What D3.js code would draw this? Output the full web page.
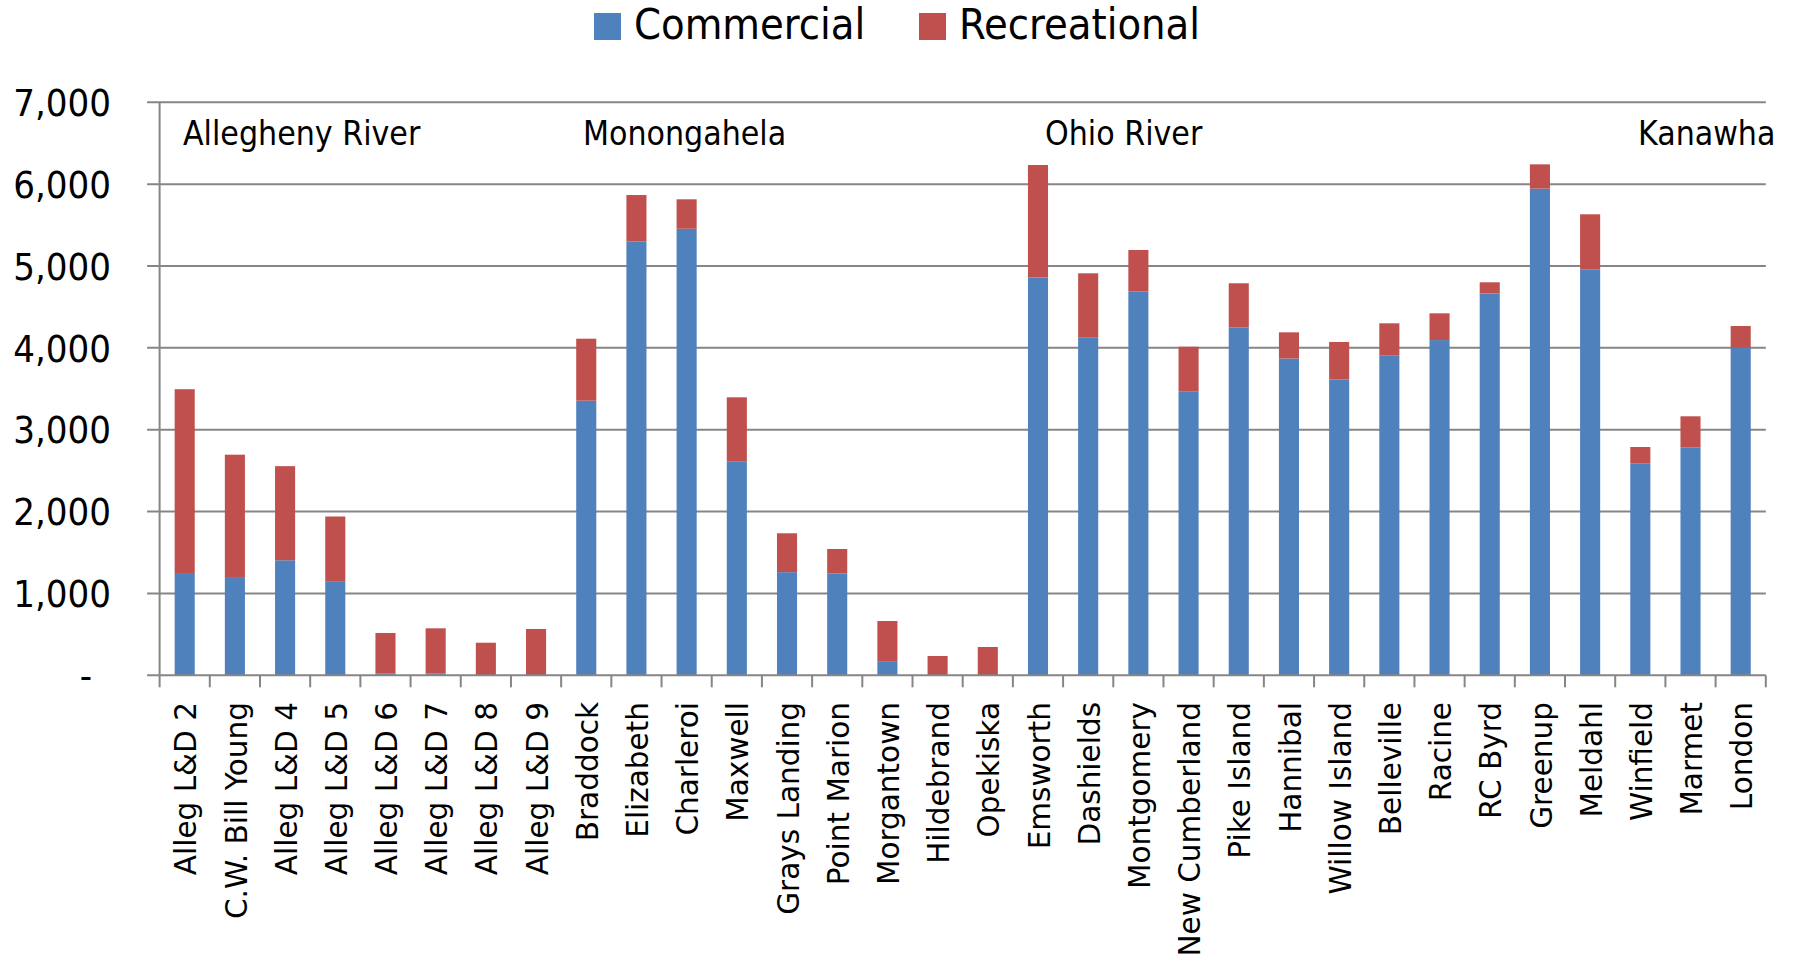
<!DOCTYPE html>
<html>
<head>
<meta charset="utf-8">
<script src="https://cdn.jsdelivr.net/npm/d3@7"></script>
<style>
  html, body { margin: 0; padding: 0; background: #fff; }
  svg { display: block; }
  .cond { font-family: 'DejaVu Sans Condensed', 'Liberation Sans Narrow', 'DejaVu Sans', sans-serif; font-stretch: condensed; }
  .cat { font-family: 'DejaVu Sans', sans-serif; }
</style>
</head>
<body>
<script>
const categories = ["Alleg L&D 2","C.W. Bill Young","Alleg L&D 4","Alleg L&D 5","Alleg L&D 6","Alleg L&D 7","Alleg L&D 8","Alleg L&D 9",
  "Braddock","Elizabeth","Charleroi","Maxwell","Grays Landing","Point Marion","Morgantown","Hildebrand","Opekiska",
  "Emsworth","Dashields","Montgomery","New Cumberland","Pike Island","Hannibal","Willow Island","Belleville","Racine","RC Byrd","Greenup","Meldahl",
  "Winfield","Marmet","London"];
const commercial = [1250,1200,1405,1150,20,20,0,0,
  3355,5300,5455,2615,1260,1245,165,0,0,
  4860,4130,4690,3470,4250,3870,3615,3910,4095,4665,5945,4960,
  2590,2785,4000];
const recreational = [2245,1495,1150,790,497,554,398,566,
  757,567,360,781,475,298,498,236,346,
  1374,781,506,544,539,320,457,390,327,136,297,672,
  199,379,267];
const seriesNames = ["Commercial","Recreational"];
const seriesColors = ["#4F81BD","#C0504D"];
const yTicks = [0,1000,2000,3000,4000,5000,6000,7000];
const riverLabels = ["Allegheny River","Monongahela","Ohio River","Kanawha"];
const riverLabelX = [183, 583, 1045, 1638];

const W = 1795, H = 965;
const X0 = 159.6, X1 = 1765.8, Ytop = 102.3, Ybot = 675.3;

const svg = d3.select("body").append("svg").attr("width", W).attr("height", H);

const x = d3.scaleBand().domain(categories).range([X0, X1]).paddingInner(0.6).paddingOuter(0.3);
const y = d3.scaleLinear().domain([0, 7000]).range([Ybot, Ytop]);
const step = x.step();

// gridlines
svg.append("g").selectAll("line").data(yTicks.filter(d => d > 0)).join("line")
  .attr("x1", X0 - 12.5).attr("x2", X1).attr("y1", d => y(d)).attr("y2", d => y(d))
  .attr("stroke", "#868686").attr("stroke-width", 2);

// stacked data
const rows = categories.map((c, i) => ({cat: c, Commercial: commercial[i], Recreational: recreational[i]}));
const stack = d3.stack().keys(seriesNames)(rows);

svg.append("g").selectAll("g").data(stack).join("g")
  .attr("fill", (d, i) => seriesColors[i])
  .selectAll("rect").data(d => d).join("rect")
  .attr("x", d => x(d.data.cat))
  .attr("width", x.bandwidth())
  .attr("y", d => y(d[1]))
  .attr("height", d => Math.max(0, y(d[0]) - y(d[1])));

// y axis line
svg.append("line").attr("x1", X0).attr("x2", X0).attr("y1", Ytop).attr("y2", Ybot)
  .attr("stroke", "#868686").attr("stroke-width", 2);
// x axis line
svg.append("line").attr("x1", X0 - 12.5).attr("x2", X1).attr("y1", Ybot).attr("y2", Ybot)
  .attr("stroke", "#868686").attr("stroke-width", 2);
// x ticks at band boundaries
svg.append("g").selectAll("line").data(d3.range(categories.length + 1)).join("line")
  .attr("x1", i => X0 + i * step).attr("x2", i => X0 + i * step)
  .attr("y1", Ybot).attr("y2", Ybot + 12)
  .attr("stroke", "#868686").attr("stroke-width", 2);

// y tick labels
svg.append("g").selectAll("text").data(yTicks).join("text")
  .attr("class", "cond")
  .attr("x", d => d === 0 ? 92 : 111)
  .attr("y", d => y(d))
  .attr("dy", "0.36em")
  .attr("text-anchor", "end")
  .attr("font-size", 38)
  .attr("fill", "#000")
  .text(d => d === 0 ? "-" : d3.format(",")(d));

// category labels
svg.append("g").selectAll("text").data(categories).join("text")
  .attr("class", "cat")
  .attr("transform", d => `translate(${x(d) + x.bandwidth() / 2 + 1},702) rotate(-90)`)
  .attr("dy", "0.36em")
  .attr("text-anchor", "end")
  .attr("font-size", 29.5)
  .attr("fill", "#000")
  .text(d => d);

// river labels
svg.append("g").selectAll("text").data(riverLabels).join("text")
  .attr("class", "cond")
  .attr("x", (d, i) => riverLabelX[i])
  .attr("y", 145)
  .attr("font-size", 33.5)
  .attr("fill", "#000")
  .text(d => d);

// legend
const legendX = [594, 919];
const lg = svg.append("g").selectAll("g").data(seriesNames).join("g")
  .attr("transform", (d, i) => `translate(${legendX[i]},0)`);
lg.append("rect").attr("x", 0).attr("y", 13).attr("width", 27).attr("height", 27)
  .attr("fill", (d, i) => seriesColors[i]);
lg.append("text").attr("class", "cond").attr("x", 40).attr("y", 39)
  .attr("font-size", 43).attr("fill", "#000").text(d => d);
</script>
</body>
</html>
